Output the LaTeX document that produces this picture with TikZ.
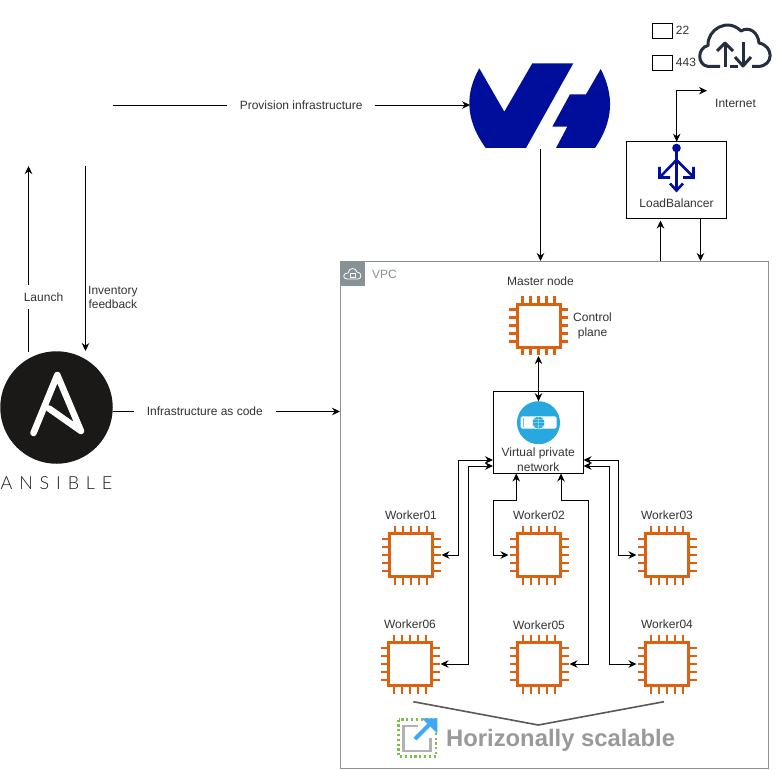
\documentclass[tikz,border=0pt]{standalone}
\usepackage{fontspec}
\setmainfont{Liberation Sans}
\newfontfamily\logofont{Lato Light}
\usepackage{tikz}
\usetikzlibrary{arrows.meta, calc, positioning}

\definecolor{chiporange}{HTML}{D9610F}
\definecolor{ovhblue}{HTML}{000E9C}
\definecolor{vpcgrey}{HTML}{879196}
\definecolor{cloudnavy}{HTML}{232F3E}
\definecolor{vpnblue}{HTML}{29A8E0}
\definecolor{textgrey}{HTML}{333333}
\definecolor{ansibleblack}{HTML}{1A1918}
\definecolor{dotgreen}{HTML}{7AC143}
\definecolor{arrowblue}{HTML}{3FA9F5}

\tikzset{
  lbl/.style={font=\fontsize{12}{14}\selectfont, text=textgrey, align=center, inner sep=1pt},
  onwire/.style={lbl, fill=white, inner xsep=13pt, inner ysep=8pt},
  box/.style={draw, line width=0.9pt, inner sep=0pt, outer sep=0pt},
  chipnode/.style={minimum size=61pt, inner sep=0pt, outer sep=0pt},
  wire/.style={line width=0.9pt, <->},
}

% one chip with its pins, the node is as wide as the pin tips
\newcommand{\chipat}[3]{
  \node[chipnode] (#1) at (#2,#3) {};
  \draw[chiporange, line width=3pt] (#2-21.5,#3-21.5) rectangle (#2+21.5,#3+21.5);
  \foreach \off in {-16,-8,0,8,16} {
    \draw[chiporange, line width=2.7pt] (#2+\off,#3-29.5) -- ++(0,8);
    \draw[chiporange, line width=2.7pt] (#2+\off,#3+21.5) -- ++(0,8);
    \draw[chiporange, line width=2.7pt] (#2-29.5,#3+\off) -- ++(8,0);
    \draw[chiporange, line width=2.7pt] (#2+21.5,#3+\off) -- ++(8,0);
  }
}

\begin{document}
\begin{tikzpicture}[x=1pt, y=-1pt, >={Stealth[length=8pt, width=7.5pt]}, node distance=4pt]
  \useasboundingbox[fill=white] (0,0) rectangle (781,770);

  % ovh logo
  \node[minimum width=141pt, minimum height=88pt, inner sep=0pt, outer sep=0pt] (ovh) at (540.5,105) {};
  \fill[ovhblue] (479.3,68.3) -- (504.3,111.7) -- (532.3,63.3) -- (573.3,63.3) -- (526,148) -- (485.7,148)
    .. controls (464,118) and (466,92) .. cycle;
  \fill[ovhblue] (570,94.3) -- (552.3,126.7) -- (567.3,126.7) -- (556,148) -- (595,148)
    .. controls (614,120) and (614,95) .. (600.7,69) -- (586,94.3) -- cycle;

  % ansible logo
  \node[circle, fill=ansibleblack, minimum size=112.5pt, inner sep=0pt, outer sep=0pt] (ansible) at (56.5,407.5) {};
  \draw[white, line width=6.5pt, line join=round, line cap=round] (33.5,433) -- (57.3,375) -- (81,431) -- (49,408.5);
  \node[below=12.5pt of ansible, inner sep=0pt, font=\logofont\fontsize{18}{20}\selectfont\addfontfeature{LetterSpace=38}, text=ansibleblack] (ansibletext) {ANSIBLE};

  % vpc
  \node[box, draw=vpcgrey, minimum width=428.5pt, minimum height=507pt] (vpc) at (554.25,514.5) {};
  \fill[vpcgrey] (340,261) rectangle (365,285.5);
  \draw[white, line width=0.8pt, line join=round] (347,279) .. controls (342,279) and (343,272.5) .. (348,273)
    .. controls (349,267) and (356,267.5) .. (357,272) .. controls (362,272) and (362,279) .. (358,279) -- cycle;
  \draw[white, line width=0.7pt] (350.5,273) rectangle (355,277);
  \node[lbl, text=vpcgrey, anchor=west] (vpclabel) at (371,274) {VPC};

  % chips
  \chipat{master}{538.5}{325.5}
  \chipat{worker1}{411}{555}
  \chipat{worker2}{539}{555}
  \chipat{worker3}{667}{555}
  \chipat{worker6}{410}{664}
  \chipat{worker5}{539}{664}
  \chipat{worker4}{667}{664}

  \node[lbl, above=8pt of master, xshift=2pt] (masterlabel) {Master node};
  \node[lbl, right=3pt of master, yshift=-0.5pt, font=\fontsize{12}{15}\selectfont] (controllabel) {Control\\plane};
  \node[lbl, above=4pt of worker1] (w1label) {Worker01};
  \node[lbl, above=4pt of worker2] (w2label) {Worker02};
  \node[lbl, above=4pt of worker3] (w3label) {Worker03};
  \node[lbl, above=4pt of worker6] (w6label) {Worker06};
  \node[lbl, above=3pt of worker5] (w5label) {Worker05};
  \node[lbl, above=4pt of worker4] (w4label) {Worker04};

  % vpn
  \node[box, minimum width=90.5pt, minimum height=82pt] (vpn) at (538.25,432.5) {};
  \node[circle, fill=vpnblue, minimum size=43pt, inner sep=0pt, outer sep=0pt] (vpnicon) at (538.5,422.7) {};
  \fill[white, rounded corners=1.5pt] (520.7,416.3) rectangle (556.5,428.5);
  \fill[vpnblue!70!white] (522.5,418.2) rectangle (524,426.5);
  \fill[vpnblue] (538.5,422.7) circle (6.3);
  \draw[white, line width=0.4pt] (538.5,422.7) circle (6.3) (532.2,422.7) -- (544.8,422.7)
    (533,419.5) -- (544,419.5) (533,426) -- (544,426) (538.5,416.4) -- (538.5,429);
  \node[lbl, font=\fontsize{12}{15}\selectfont, below=14pt of vpn.center] (vpnlabel) {Virtual private\\network};

  \coordinate (vpnw1) at ([yshift=13.5pt]vpn.south west);
  \coordinate (vpnw2) at ([yshift=7.5pt]vpn.south west);
  \coordinate (vpne1) at ([yshift=13.5pt]vpn.south east);
  \coordinate (vpne2) at ([yshift=7.5pt]vpn.south east);
  \coordinate (vpns1) at ([xshift=-22pt]vpn.south);
  \coordinate (vpns2) at ([xshift=22.75pt]vpn.south);

  \draw[wire] (master) -- (vpnicon);
  \draw[wire] (vpnw1) -- ++(-34.5,0) |- (worker1.east);
  \draw[wire] (vpnw2) -- ++(-25,0) |- (worker6.east);
  \draw[wire] (vpne1) -- ++(35,0) |- (worker3.west);
  \draw[wire] (vpne2) -- ++(25.5,0) |- (worker4.west);
  \draw[wire] (vpns1) -- ++(0,27) -- ++(-22.5,0) |- (worker2.west);
  \draw[wire] (vpns2) -- ++(0,27) -- ++(27.5,0) |- (worker5.east);

  % ports and cloud
  \node[box, minimum width=20.5pt, minimum height=15pt] (port22) at (662.5,30.5) {};
  \node[box, minimum width=20.5pt, minimum height=15pt] (port443) at (662.5,62.7) {};
  \node[lbl, right=2pt of port22] (label22) {22};
  \node[lbl, right=2pt of port443] (label443) {443};
  \draw[cloudnavy, line width=3pt, line join=round] (720,66.5) -- (708,66.5)
    .. controls (697,65) and (697,48) .. (708,45.5) .. controls (707,30) and (727,17) .. (741,31)
    .. controls (749,26) and (758,32) .. (759,43) .. controls (774,46) and (774,66) .. (758,66.5) -- (752,66.5);
  \draw[cloudnavy, line width=3pt] (730,66.5) -- (738,66.5);
  \draw[cloudnavy, line width=3pt] (725,67) -- (725,43);
  \draw[cloudnavy, line width=3pt, line join=round] (717,51) -- (725,43) -- (733,51);
  \draw[cloudnavy, line width=3pt] (743,42) -- (743,66);
  \draw[cloudnavy, line width=3pt, line join=round] (735,57) -- (743,66) -- (751,57);
  \coordinate (cloudport) at (707,90.7);
  \node[lbl, anchor=west] (internet) at (714,103.5) {Internet};

  % load balancer
  \node[box, minimum width=100pt, minimum height=76.5pt] (lb) at (676.7,180) {};
  \fill[ovhblue] (676.5,148) circle (4.3);
  \draw[ovhblue, line width=2.6pt, line join=miter] (676.5,150) -- (676.5,190)
    (676.5,160) -- (660.5,176.5) (676.5,160) -- (693,176.5)
    (659.5,167) -- (659.5,177.5) -- (670,177.5) (683,177.5) -- (693.5,177.5) -- (693.5,167)
    (670,183.5) -- (676.5,190.5) -- (683,183.5);
  \node[lbl] (lblabel) at (676.5,203) {LoadBalancer};
  \draw[wire] (lb.north) |- (cloudport);

  % terraform side, no box there
  \coordinate (provision) at (113,105);
  \coordinate (launchtop) at (28.5,166);
  \coordinate (inventorytop) at (85.5,166);

  \draw[line width=0.9pt, ->] (provision) -- node[onwire, pos=0.527] (provlabel) {Provision infrastructure} (ovh.west);
  \draw[line width=0.9pt, ->] (ovh.south) -- (ovh.south |- vpc.north);
  \draw[line width=0.9pt, ->] (28.5,351.5) -- (launchtop);
  \node[onwire] (launchlabel) at (43.5,297) {Launch};
  \draw[line width=0.9pt, ->] (inventorytop) -- (85.5,351);
  \node[lbl, anchor=west] (inventorylabel) at (87,297.5) {Inventory\\feedback};
  \draw[line width=0.9pt, ->] (ansible.east |- 0,411.5) -- node[onwire, pos=0.405] (iaclabel) {Infrastructure as code} (vpc.west |- 0,411.5);
  \draw[line width=0.9pt, ->] (660.5,261) -- (660.5,220.5);
  \draw[line width=0.9pt, ->] (700.5,218.3) -- (700.5,261);

  % scaling hint
  \coordinate (scaleleft) at (413.3,701.7);
  \coordinate (scalemid) at (538.3,725);
  \coordinate (scaleright) at (664,701.7);
  \draw[black!65, line width=1.6pt] (scaleleft) -- (scalemid) -- (scaleright);
  \draw[dotgreen, line width=2.2pt, dash pattern=on 2.2pt off 2.6pt] (398.5,719.5) rectangle (436,756.5);
  \draw[black!30, line width=2.8pt] (418,726) -- (403.5,726) -- (403.5,751) -- (430.5,751) -- (430.5,738);
  \draw[arrowblue, line width=4pt] (415,739) -- (430,724);
  \fill[arrowblue] (422,718.3) -- (437.3,718.3) -- (437.3,733.5) -- cycle;
  \node[anchor=base west, inner sep=0pt, font=\bfseries\fontsize{23.8}{26}\selectfont, text=black!40] (scalelabel) at (446,746.5) {Horizonally scalable};
\end{tikzpicture}
\end{document}
